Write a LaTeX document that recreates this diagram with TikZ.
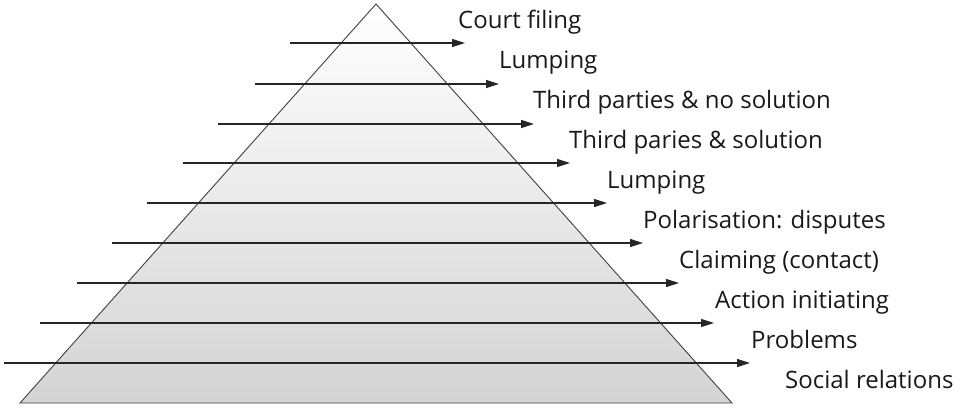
\documentclass[tikz,border=0pt]{standalone}
\usepackage{fontspec}
\setmainfont{Open Sans}
\usetikzlibrary{arrows.meta}
\begin{document}
\begin{tikzpicture}[x=1pt,y=-1pt,
    level/.style={-{Triangle[length=13pt,width=8pt]},line width=1.2pt,black!85},
    tag/.style={anchor=base west,inner sep=0pt,font=\fontsize{24}{26}\selectfont,black!90}]
  \useasboundingbox (0,0) rectangle (963,408);
  % pyramid
  \coordinate (apex) at (376,4);
  \coordinate (bl) at (20,403);
  \coordinate (br) at (732,403);
  \shade[top color=white,bottom color=black!17] (apex) -- (bl) -- (br) -- cycle;
  \draw[black!75,line width=0.9pt] (apex) -- (bl) -- (br) -- cycle;
  % arrow ends
  \coordinate (s1) at (290,43);  \coordinate (e1) at (465,43);
  \coordinate (s2) at (255,84);  \coordinate (e2) at (499,84);
  \coordinate (s3) at (218,124); \coordinate (e3) at (534,124);
  \coordinate (s4) at (183,163); \coordinate (e4) at (570,163);
  \coordinate (s5) at (147,203); \coordinate (e5) at (607,203);
  \coordinate (s6) at (112,243); \coordinate (e6) at (643,243);
  \coordinate (s7) at (77,283);  \coordinate (e7) at (679,283);
  \coordinate (s8) at (40,323);  \coordinate (e8) at (714,323);
  \coordinate (s9) at (4,363);   \coordinate (e9) at (750,363);
  \begin{scope}[level]
    \draw (s1) to (e1);
    \draw (s2) to (e2);
    \draw (s3) to (e3);
    \draw (s4) to (e4);
    \draw (s5) to (e5);
    \draw (s6) to (e6);
    \draw (s7) to (e7);
    \draw (s8) to (e8);
    \draw (s9) to (e9);
  \end{scope}
  % labels
  \node[tag] (court) at (458,28) {Court filing};
  \node[tag] (lump1) at (499,68) {Lumping};
  \node[tag] (third1) at (533,108) {Third parties \& no solution};
  \node[tag] (third2) at (569,148) {Third paries \& solution};
  \node[tag] (lump2) at (607,188) {Lumping};
  \node[tag] (polar) at (643,228) {Polarisation: disputes};
  \node[tag] (claim) at (679,268) {Claiming (contact)};
  \node[tag] (action) at (715,308) {Action initiating};
  \node[tag] (probl) at (751,348) {Problems};
  \node[tag] (social) at (785,388) {Social relations};
\end{tikzpicture}
\end{document}
